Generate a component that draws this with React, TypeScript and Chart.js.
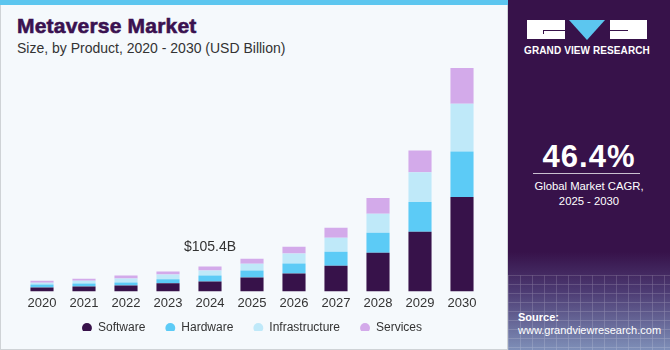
import React, { useEffect, useRef } from "react";
import { Chart, registerables } from "chart.js";

Chart.register(...registerables);

const years = ["2020", "2021", "2022", "2023", "2024", "2025", "2026", "2027", "2028", "2029", "2030"];
const software = [17, 21, 25, 34, 42.2, 59, 76, 109, 164, 252, 399];
const hardware = [12, 12, 13, 17, 25.2, 29, 42, 59, 84, 126, 193];
const infrastructure = [8, 12, 17, 21, 21, 29, 42, 59, 80, 126, 202];
const services = [8, 8, 12, 12, 17, 21, 29, 42, 67, 92, 151];
const seriesNames = ["Software", "Hardware", "Infrastructure", "Services"];
const seriesColors = ["#37124a", "#5ccbf6", "#bfe9f9", "#d3aaea"];
const highlightIndex = 4;
const highlightLabel = "$105.4B";
const yMax = 979;
const legendLift = 13;

const labelPlugin = {
  id: "highlightLabel",
  afterDatasetsDraw(chart: any) {
    const ctx = chart.ctx;
    const metas = chart.getSortedVisibleDatasetMetas();
    const top = metas[metas.length - 1].data[highlightIndex];
    ctx.save();
    ctx.font = "14px 'Liberation Sans', Arial, sans-serif";
    ctx.fillStyle = "#333333";
    ctx.textAlign = "center";
    ctx.textBaseline = "middle";
    ctx.fillText(highlightLabel, top.x, top.y - 19);
    ctx.restore();
  },
};

const legendTightPlugin = {
  id: "legendTight",
  beforeInit(chart: any) {
    const legend = chart.legend;
    if (!legend) return;
    const origFit = legend.fit;
    legend.fit = function () {
      origFit.call(this);
      this.height = Math.max(0, this.height - legendLift);
    };
  },
  afterLayout(chart: any) {
    const legend = chart.legend;
    if (!legend) return;
    legend.top -= legendLift;
    legend.bottom -= legendLift;
  },
};

function BarChart() {
  const ref = useRef<HTMLCanvasElement | null>(null);
  useEffect(() => {
    if (!ref.current) return;
    const values = [software, hardware, infrastructure, services];
    const chart = new Chart(ref.current, {
      type: "bar",
      data: {
        labels: years,
        datasets: values.map((v, i) => ({
          label: seriesNames[i],
          data: v,
          backgroundColor: seriesColors[i],
          borderWidth: 0,
          barPercentage: 0.55,
          categoryPercentage: 1,
        })),
      },
      options: {
        animation: false,
        responsive: false,
        maintainAspectRatio: false,
        layout: { padding: { left: 21, right: 22, top: 0, bottom: 6 } },
        plugins: {
          tooltip: { enabled: false },
          legend: {
            position: "bottom",
            labels: {
              usePointStyle: true,
              pointStyle: "circle",
              boxWidth: 10,
              boxHeight: 7,
              padding: 20,
              color: "#333333",
              font: { size: 12, family: "'Liberation Sans', Arial, sans-serif" },
            },
          },
        },
        scales: {
          x: {
            stacked: true,
            grid: { display: false, drawTicks: false },
            border: { display: false },
            ticks: {
              color: "#333333",
              padding: 4,
              font: { size: 13, family: "'Liberation Sans', Arial, sans-serif" },
            },
          },
          y: {
            stacked: true,
            display: false,
            min: 0,
            max: yMax,
          },
        },
      },
      plugins: [labelPlugin, legendTightPlugin],
    });
    return () => chart.destroy();
  }, []);
  return <canvas ref={ref} width={505} height={290} style={{ position: "absolute", left: 0, top: 60, width: 505, height: 290 }} />;
}

export default function App() {
  const font = "'Liberation Sans', Arial, sans-serif";
  return (
    <div style={{ position: "fixed", left: 0, top: 0, width: 670, height: 350, overflow: "hidden", fontFamily: font }}>
      <div style={{ position: "absolute", left: 0, top: 0, width: 508, height: 350, background: "#f5f9fc", border: "1px solid #cfd3d6", boxSizing: "border-box" }} />
      <div style={{ position: "absolute", left: 0, top: 0, width: 508, height: 5, background: "#5cc6ef" }} />
      <div style={{ position: "absolute", left: 17, top: 14, fontSize: 21, fontWeight: 700, color: "#3a1150", WebkitTextStroke: "0.6px #3a1150", letterSpacing: 0.2 }}>Metaverse Market</div>
      <div style={{ position: "absolute", left: 17, top: 40, fontSize: 14, color: "#333333" }}>Size, by Product, 2020 - 2030 (USD Billion)</div>
      <BarChart />
      <div style={{ position: "absolute", left: 508, top: 0, width: 162, height: 350, background: "linear-gradient(to bottom, #37124a 0%, #37124a 72%, #4c3a72 83%, #7e8fb8 100%)" }} />
      <div style={{ position: "absolute", left: 508, top: 275, width: 162, height: 75, opacity: 0.25, backgroundImage: "repeating-linear-gradient(to right, rgba(255,255,255,0.6) 0 1px, transparent 1px 12px), repeating-linear-gradient(to bottom, rgba(255,255,255,0.6) 0 1px, transparent 1px 9px)" }} />
      <div style={{ position: "absolute", left: 527, top: 20, width: 38, height: 19, background: "#ffffff" }}>
        <div style={{ position: "absolute", left: 16, top: 10, width: 22, height: 1, background: "#37124a" }} />
        <div style={{ position: "absolute", left: 16, top: 10, width: 1, height: 4, background: "#37124a" }} />
      </div>
      <div style={{ position: "absolute", left: 569, top: 20, width: 0, height: 0, borderLeft: "18.5px solid transparent", borderRight: "18.5px solid transparent", borderTop: "20px solid #5cc6ef" }} />
      <div style={{ position: "absolute", left: 610, top: 20, width: 37, height: 19, background: "#ffffff" }}>
        <div style={{ position: "absolute", left: 0, top: 10, width: 18, height: 1, background: "#37124a" }} />
      </div>
      <div style={{ position: "absolute", left: 507, top: 45, width: 160, textAlign: "center", color: "#ffffff", fontSize: 10, fontWeight: 700, letterSpacing: 0.1 }}>GRAND VIEW RESEARCH</div>
      <div style={{ position: "absolute", left: 508, top: 139, width: 162, textAlign: "center", color: "#ffffff", fontSize: 31, fontWeight: 700, letterSpacing: 1 }}>46.4%</div>
      <div style={{ position: "absolute", left: 533, top: 173, width: 107, height: 1, background: "#c9c0d0" }} />
      <div style={{ position: "absolute", left: 508, top: 179, width: 162, textAlign: "center", color: "#ffffff", fontSize: 11.3, lineHeight: "15px" }}>Global Market CAGR,<br />2025 - 2030</div>
      <div style={{ position: "absolute", left: 518, top: 311, color: "#ffffff", fontSize: 11, fontWeight: 700 }}>Source:</div>
      <div style={{ position: "absolute", left: 518, top: 324, color: "#ffffff", fontSize: 11 }}>www.grandviewresearch.com</div>
    </div>
  );
}
